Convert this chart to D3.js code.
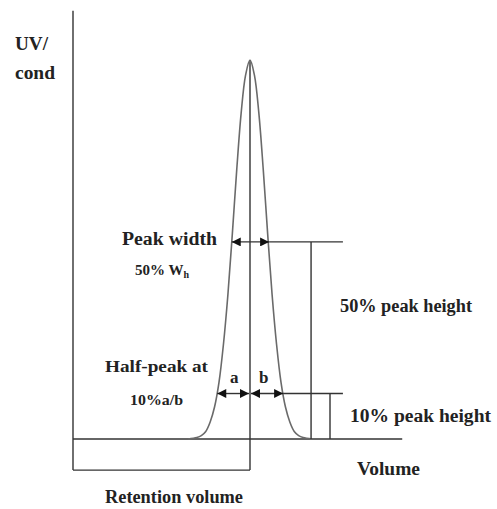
<!DOCTYPE html>
<html lang="en">
<head>
  <meta charset="UTF-8">
  <title>Peak width and retention volume</title>
  <script src="https://d3js.org/d3.v7.min.js"></script>
  <style>
    body { margin: 0; background: #fff; }
    svg { display: block; }
    .lbl {
      font-family: 'Liberation Serif', Tinos, Times, 'DejaVu Serif', serif;
      font-weight: bold;
      fill: #222;
    }
    .axis-line { stroke: #333; stroke-width: 1.4; fill: none; }
    .peak { stroke: #6a6a6a; stroke-width: 1.6; fill: none; }
  </style>
</head>
<body>
  <div id="chart"></div>
  <script>
    const width = 497, height = 509;

    // peak trace (volume, % of peak height)
    const peakVolume = [6.5, 7, 7.25, 7.5, 7.75, 8, 8.25, 8.5, 8.75, 9, 9.25, 9.5, 9.75, 10,
      10.25, 10.5, 10.75, 11, 11.25, 11.5, 11.75, 12, 12.25, 12.5, 12.75, 13, 13.5];
    const peakSignal = [0, 0.4, 0.9, 2, 4.5, 8.5, 15, 25, 38, 54, 71, 86, 96, 100,
      96, 86, 71, 54, 38, 25, 15, 8.5, 4.5, 2, 0.9, 0.4, 0];

    const retentionVolume = 10;
    const axisTop = 113;        // signal at the top of the y axis
    const baselineEnd = 18.6;   // volume where the baseline stops
    const boxBottom = -8.2;     // signal level of the retention box bottom

    // width markers: level (%), left / right arrow ends, end of the guide line
    const levelNames = ["half", "tenth"];
    const levelValues = [52, 12];
    const levelLeft = [8.97, 8.15];
    const levelRight = [11.08, 11.87];
    const levelLineEnd = [15.25, 15.25];
    const guideVolume = [13.45, 14.52];

    const x = d3.scaleLinear().domain([0, 20]).range([73, 427]);
    const y = d3.scaleLinear().domain([0, 100]).range([439, 60]);

    const svg = d3.select("#chart").append("svg")
      .attr("width", width)
      .attr("height", height);

    const defs = svg.append("defs");
    ["arrowEnd", "arrowStart"].forEach((id, i) => {
      defs.append("marker")
        .attr("id", id)
        .attr("viewBox", "0 0 10 10")
        .attr("refX", 10).attr("refY", 5)
        .attr("markerWidth", 10).attr("markerHeight", 9)
        .attr("markerUnits", "userSpaceOnUse")
        .attr("orient", i === 0 ? "auto" : "auto-start-reverse")
        .append("path")
        .attr("d", "M0,0 L10,5 L0,10 Z")
        .attr("fill", "#111");
    });

    // axes and retention box
    const g = svg.append("g");
    g.append("line").attr("class", "axis-line")
      .attr("x1", x(0)).attr("x2", x(0))
      .attr("y1", y(axisTop)).attr("y2", y(boxBottom));
    g.append("line").attr("class", "axis-line")
      .attr("x1", x(0)).attr("x2", x(baselineEnd))
      .attr("y1", y(0)).attr("y2", y(0));
    g.append("line").attr("class", "axis-line")
      .attr("x1", x(0)).attr("x2", x(retentionVolume))
      .attr("y1", y(boxBottom)).attr("y2", y(boxBottom));
    g.append("line").attr("class", "axis-line")
      .attr("x1", x(retentionVolume)).attr("x2", x(retentionVolume))
      .attr("y1", y(100)).attr("y2", y(boxBottom));

    // peak
    const line = d3.line()
      .x((d, i) => x(peakVolume[i]))
      .y(d => y(d))
      .curve(d3.curveCatmullRom);
    g.append("path").attr("class", "peak").attr("d", line(peakSignal));

    // width markers
    levelNames.forEach((name, i) => {
      const yy = y(levelValues[i]);
      g.append("line").attr("class", "axis-line")
        .attr("x1", x(levelRight[i])).attr("x2", x(levelLineEnd[i]))
        .attr("y1", yy).attr("y2", yy);
      g.append("line").attr("class", "axis-line")
        .attr("x1", x(guideVolume[i])).attr("x2", x(guideVolume[i]))
        .attr("y1", yy).attr("y2", y(0));
      if (name === "half") {
        g.append("line").attr("class", "axis-line")
          .attr("x1", x(levelLeft[i])).attr("x2", x(levelRight[i]))
          .attr("y1", yy).attr("y2", yy)
          .attr("marker-start", "url(#arrowStart)")
          .attr("marker-end", "url(#arrowEnd)");
      } else {
        [[levelLeft[i], retentionVolume], [retentionVolume, levelRight[i]]].forEach(p => {
          g.append("line").attr("class", "axis-line")
            .attr("x1", x(p[0]) + (p[0] === retentionVolume ? 1 : 0))
            .attr("x2", x(p[1]) - (p[1] === retentionVolume ? 1 : 0))
            .attr("y1", yy).attr("y2", yy)
            .attr("marker-start", "url(#arrowStart)")
            .attr("marker-end", "url(#arrowEnd)");
        });
      }
    });

    // labels (w = width measured on the reference)
    const labels = [
      { t: "UV/", x: 15, y: 50, s: 18, w: 33 },
      { t: "cond", x: 15, y: 79, s: 18, w: 40 },
      { t: "Peak width", x: 122, y: 245, s: 18, w: 95 },
      { t: "50% peak height", x: 340, y: 312, s: 18, w: 132 },
      { t: "Half-peak at", x: 105, y: 372, s: 17, w: 103 },
      { t: "10%a/b", x: 130, y: 405, s: 15, w: 53 },
      { t: "a", x: 230, y: 383, s: 17 },
      { t: "b", x: 259, y: 383, s: 17 },
      { t: "10% peak height", x: 350, y: 422, s: 18, w: 141 },
      { t: "Volume", x: 357, y: 475, s: 18, w: 63 },
      { t: "Retention volume", x: 105, y: 503, s: 18, w: 138 }
    ];
    svg.selectAll("text.lbl").data(labels).enter().append("text")
      .attr("class", "lbl")
      .attr("x", d => d.x).attr("y", d => d.y)
      .style("font-size", d => d.s + "px")
      .each(function (d) {
        if (d.w) d3.select(this).attr("textLength", d.w).attr("lengthAdjust", "spacingAndGlyphs");
      })
      .text(d => d.t);

    const wh = svg.append("text").attr("class", "lbl")
      .attr("x", 135).attr("y", 275).style("font-size", "15px");
    wh.append("tspan").text("50% W");
    wh.append("tspan").attr("dy", 3).style("font-size", "10px").text("h");
  </script>
</body>
</html>
